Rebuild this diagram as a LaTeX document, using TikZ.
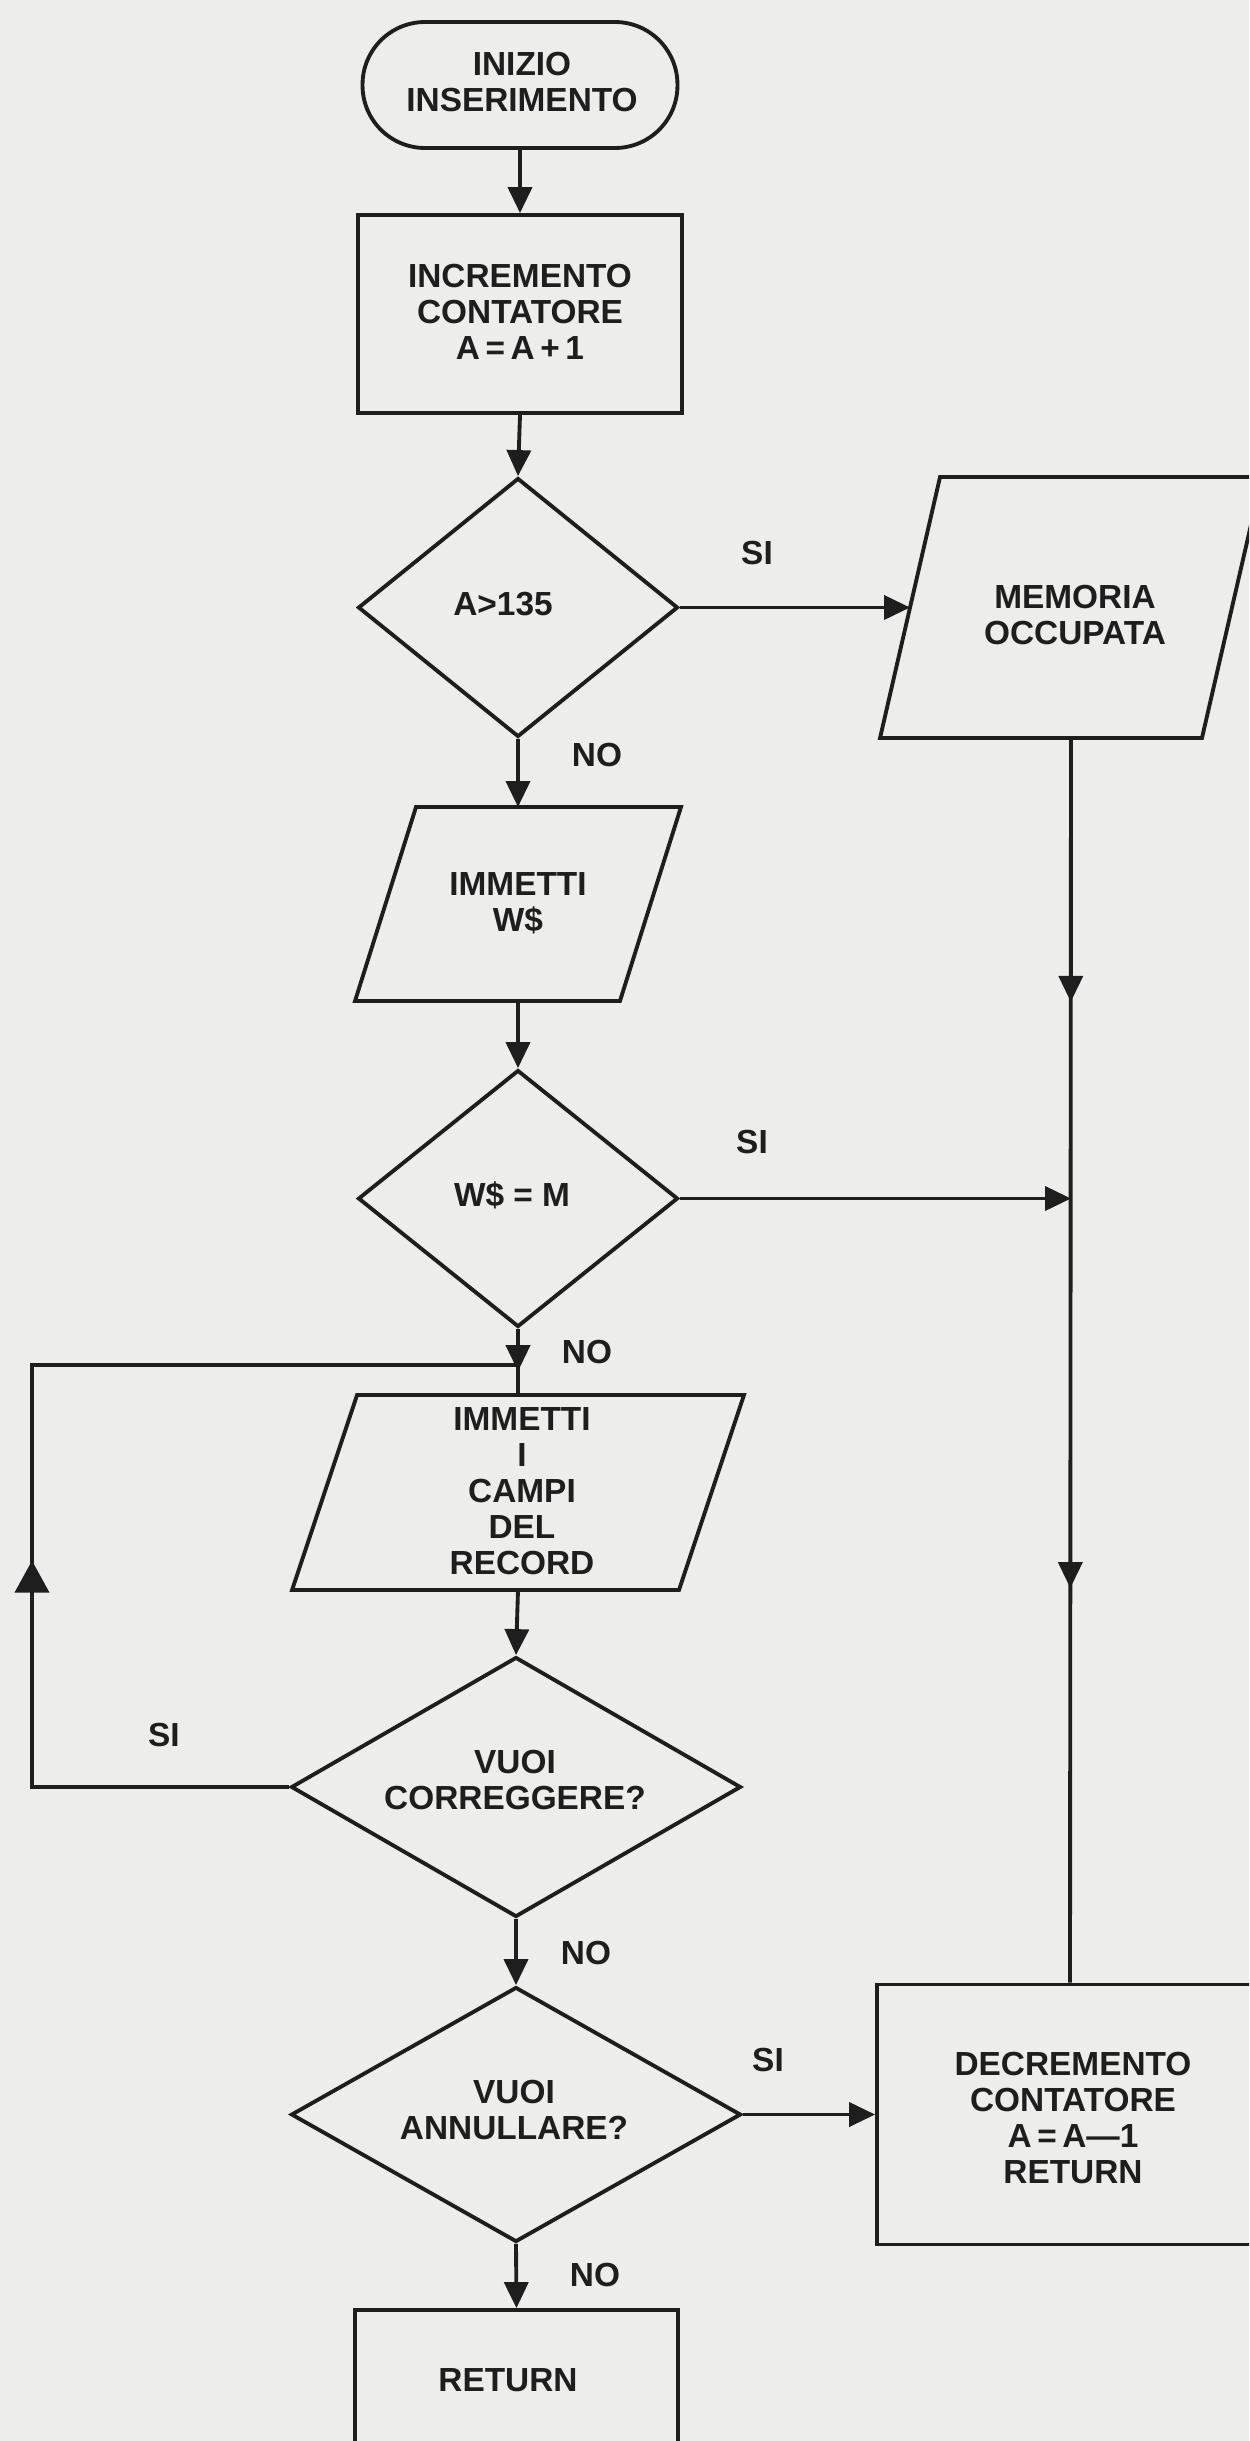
\documentclass[tikz,border=0pt]{standalone}
\usepackage{fontspec}
\setmainfont{Liberation Sans}
\usetikzlibrary{arrows.meta,shapes.geometric,decorations.markings}
\definecolor{paper}{RGB}{237,237,235}
\definecolor{ink}{RGB}{30,30,30}
% parallelogram drawn around an invisible rectangle node: #1 node, #2 half of the slant
\newcommand\slantbox[2]{%
  \draw[line] ([xshift=-#2]#1.south west) -- ([xshift=-#2]#1.south east)
    -- ([xshift=#2]#1.north east) -- ([xshift=#2]#1.north west) -- cycle;}
\begin{document}
\begin{tikzpicture}[x=0.02cm,y=-0.02cm,
  line/.style={draw=ink, line width=2.2pt},
  tip/.style={-{Triangle[length=0.52cm,width=0.48cm]}},
  flow/.style={line, tip},
  txt/.style={font=\fontsize{19pt}{20.5pt}\selectfont\bfseries, text=ink,
    align=center, inner sep=0pt},
  stadium/.style={line, rectangle, rounded corners=1.25cm, inner sep=0pt},
  procbox/.style={line, rectangle, inner sep=0pt},
  decision/.style={line, diamond, inner sep=0pt},
  iobox/.style={rectangle, inner sep=0pt, outer sep=0pt},
]
\useasboundingbox (0,0) rectangle (1249,2441);
\clip (0,0) rectangle (1249,2441);
\fill[paper] (0,0) rectangle (1249,2441);

% ---- shapes ----
\node[stadium, minimum width=6.3cm, minimum height=2.52cm] (start) at (520,85) {};
\node[procbox, minimum width=6.48cm, minimum height=3.96cm] (inc) at (520,314) {};
\node[decision, minimum width=6.4cm, minimum height=5.18cm] (full) at (518,607.5) {};
\node[iobox, minimum width=6.44cm, minimum height=5.22cm] (mem) at (1071,607.5) {};
\slantbox{mem}{0.6cm}
\node[iobox, minimum width=5.3cm, minimum height=3.88cm] (getw) at (518,904) {};
\slantbox{getw}{0.61cm}
\node[decision, minimum width=6.4cm, minimum height=5.14cm] (isend) at (518,1198.5) {};
\node[iobox, minimum width=7.74cm, minimum height=3.9cm] (fields) at (518,1492.5) {};
\slantbox{fields}{0.65cm}
\node[decision, minimum width=9cm, minimum height=5.2cm] (fix) at (516,1787) {};
\node[decision, minimum width=9cm, minimum height=5.1cm] (cancel) at (516,2114.5) {};
\node[procbox, minimum width=6.46cm, minimum height=3.2cm] (ret) at (516.5,2390) {};
\node[procbox, minimum width=7.72cm, minimum height=5.2cm] (dec) at (1070,2114.5) {};

% ---- texts ----
\node[txt] (t-start) at (522,82) {INIZIO\\INSERIMENTO};
\node[txt] (t-inc) at (520,312) {INCREMENTO\\CONTATORE\\A\,=\,A\,+\,1};
\node[txt] (t-full) at (503,604) {A>135};
\node[txt] (t-mem) at (1075,615) {MEMORIA\\OCCUPATA};
\node[txt] (t-getw) at (518,903) {IMMETTI\\W\$};
\node[txt] (t-isend) at (512,1195) {W\$ = M};
\node[txt] (t-fields) at (522,1491) {IMMETTI\\I\\CAMPI\\DEL\\RECORD};
\node[txt] (t-fix) at (515,1780) {VUOI\\CORREGGERE?};
\node[txt] (t-cancel) at (514,2110) {VUOI\\ANNULLARE?};
\node[txt] (t-ret) at (508,2380) {RETURN};
\node[txt] (t-dec) at (1073,2118) {DECREMENTO\\CONTATORE\\A\,=\,A—1\\RETURN};

% ---- branch labels ----
\node[txt] (si1) at (757,553) {SI};
\node[txt] (no1) at (597,755) {NO};
\node[txt] (si2) at (752,1142) {SI};
\node[txt] (no2) at (587,1352) {NO};
\node[txt] (si3) at (164,1735) {SI};
\node[txt] (no3) at (586,1953) {NO};
\node[txt] (si4) at (768,2060) {SI};
\node[txt] (no4) at (595,2275) {NO};

% ---- connectors ----
\coordinate (jright) at (mem.south |- isend.east);
\coordinate (jloop) at (518,1365);
\coordinate (loopcorner) at (32,1365);

\draw[flow] (start.south) -- (inc.north);
\draw[flow] (inc.south) -- (full.north);
\draw[flow] (full.east) -- (mem.west);
\draw[flow] (full.south) -- (getw.north);
\draw[flow] (getw.south) -- (isend.north);
\draw[flow] (isend.east) -- (jright);
\draw[line, postaction={decorate}, decoration={markings,
    mark=at position 0.212 with {\arrow{Triangle[length=0.52cm,width=0.48cm]}},
    mark=at position 0.683 with {\arrow{Triangle[length=0.52cm,width=0.48cm]}}}]
  (mem.south) -- (dec.north);
\draw[line, postaction={decorate}, decoration={markings,
    mark=at position 0.64 with {\arrow{Triangle[length=0.52cm,width=0.48cm]}}}]
  (isend.south) -- (fields.north);
\draw[line, postaction={decorate}, decoration={markings,
    mark=at position 0.415 with {\arrow{Triangle[length=0.64cm,width=0.68cm]}}}]
  (fix.west) -| (loopcorner) -- (jloop);
\draw[flow] (fields.south) -- (fix.north);
\draw[flow] (fix.south) -- (cancel.north);
\draw[flow] (cancel.south) -- (ret.north);
\draw[flow] (cancel.east) -- (dec.west);
\end{tikzpicture}
\end{document}
